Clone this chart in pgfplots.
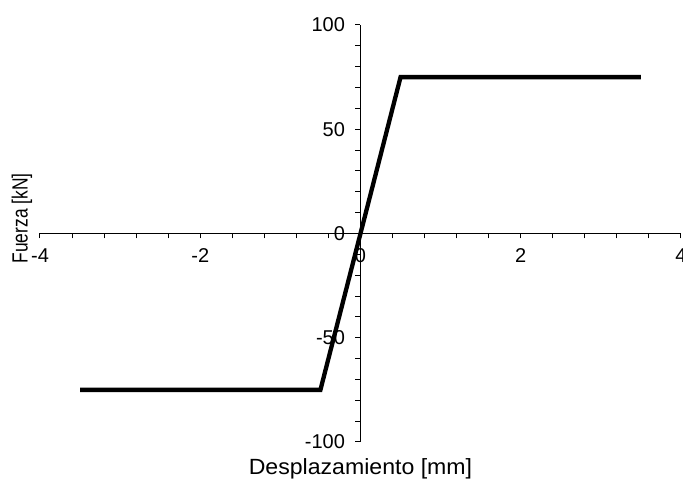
\documentclass[border=0pt]{standalone}
\usepackage{fontspec}
\setmainfont{Liberation Sans}
\usepackage{graphicx}
\usepackage{pgfplots}
\pgfplotsset{compat=1.18}
\begin{document}
\begin{tikzpicture}
\begin{axis}[
  scale only axis, width=641pt, height=417pt,
  axis lines=middle,
  xmin=-4, xmax=4, ymin=-100, ymax=100,
  xtick={-4,-2,0,2,4}, ytick={-100,-50,0,50,100},
  minor x tick num=4, minor y tick num=4,
  tick align=outside,
  major tick length=5pt, minor tick length=5pt,
  axis line style={black, line width=1pt, -},
  tick style={black, line width=1pt},
  hide obscured x ticks=false, hide obscured y ticks=false,
  /pgf/number format/assume math mode=true,
  ticklabel style={font=\fontsize{20}{23}\selectfont},
  xticklabel style={yshift=-7pt},
  yticklabel style={xshift=-7pt},
  xlabel={\scalebox{1.05}[1]{Desplazamiento [mm]}},
  ylabel={\scalebox{0.79}[1]{Fuerza [kN]}},
  every axis x label/.style={at={(axis description cs:0.5,-0.064)}, anchor=center, font=\fontsize{22}{26}\selectfont},
  every axis y label/.style={at={(axis description cs:-0.028,0.536)}, anchor=center, rotate=90, font=\fontsize{22}{26}\selectfont},
  clip=false,
]
\addplot[black, line width=4.3pt, line join=miter] coordinates {(-3.5,-75) (-0.5,-75) (0.5,75) (3.5,75)};
\end{axis}
\pgfresetboundingbox
\path[use as bounding box] (-40pt,-44pt) rectangle (643pt,442pt);
\end{tikzpicture}
\end{document}
